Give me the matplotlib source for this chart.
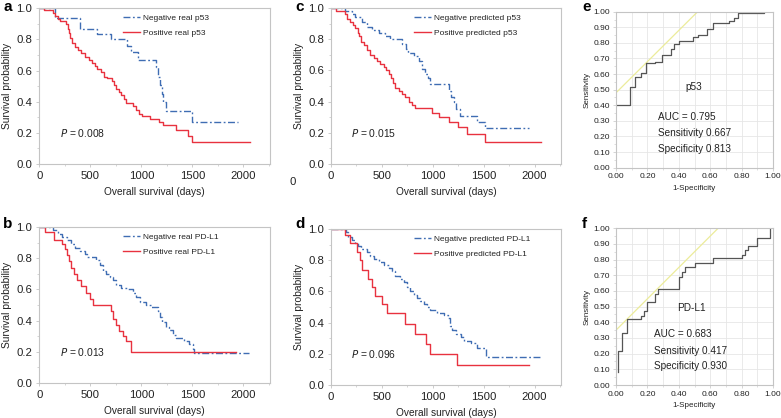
import matplotlib
matplotlib.use("Agg")
import matplotlib.pyplot as plt
from matplotlib.ticker import MultipleLocator, FormatStrFormatter

plt.rcParams['font.family'] = ['Liberation Sans', 'DejaVu Sans']

# ---------------- data ----------------
# Panel a: real p53
a_neg_t = [0, 153, 398, 567, 707, 864, 903, 962, 1148, 1164, 1186, 1206, 1216, 1242, 1500, 1950]
a_neg_s = [1.0, 0.94, 0.87, 0.835, 0.80, 0.76, 0.72, 0.67, 0.62, 0.56, 0.51, 0.45, 0.40, 0.34, 0.27, 0.27]
a_pos_t = [0, 50, 135, 155, 185, 205, 265, 280, 290, 300, 325, 345, 380, 410, 450, 490, 520, 550, 570,
           600, 630, 665, 715, 735, 755, 785, 805, 825, 850, 920, 950, 980, 1010, 1080, 1175, 1215,
           1340, 1460, 1500, 2060]
a_pos_s = [1.0, 0.99, 0.97, 0.95, 0.93, 0.92, 0.90, 0.87, 0.84, 0.81, 0.78, 0.75, 0.73, 0.71, 0.69, 0.67,
           0.65, 0.63, 0.61, 0.59, 0.56, 0.55, 0.53, 0.51, 0.48, 0.46, 0.44, 0.42, 0.39, 0.37, 0.35, 0.32,
           0.31, 0.29, 0.27, 0.25, 0.22, 0.18, 0.14, 0.14]

# Panel b: real PD-L1
b_neg_t = [0, 137, 186, 218, 267, 315, 348, 397, 446, 472, 560, 593, 624, 657, 690, 722, 755, 804, 869,
           918, 950, 982, 1048, 1097, 1162, 1178, 1201, 1243, 1275, 1308, 1340, 1422, 1471, 1503, 1512, 2050]
b_neg_s = [1.0, 0.98, 0.96, 0.94, 0.92, 0.89, 0.87, 0.85, 0.83, 0.81, 0.79, 0.76, 0.72, 0.70, 0.68, 0.66,
           0.63, 0.61, 0.60, 0.58, 0.55, 0.52, 0.50, 0.49, 0.46, 0.42, 0.39, 0.36, 0.34, 0.31, 0.29, 0.27,
           0.25, 0.22, 0.19, 0.19]
b_pos_t = [0, 51, 143, 218, 251, 267, 290, 306, 339, 371, 413, 462, 495, 527, 700, 722, 755, 781, 820,
           853, 902, 1930]
b_pos_s = [1.0, 0.97, 0.92, 0.89, 0.86, 0.82, 0.78, 0.74, 0.70, 0.66, 0.62, 0.58, 0.54, 0.50, 0.46, 0.41,
           0.37, 0.33, 0.30, 0.27, 0.20, 0.20]

# Panel c: predicted p53
c_neg_t = [0, 140, 205, 238, 304, 353, 403, 469, 528, 584, 700, 733, 759, 812, 862, 895, 928, 954, 977,
           1158, 1184, 1208, 1224, 1267, 1436, 1511, 1950]
c_neg_s = [1.0, 0.98, 0.96, 0.94, 0.91, 0.88, 0.86, 0.84, 0.82, 0.80, 0.77, 0.74, 0.71, 0.69, 0.66, 0.61,
           0.58, 0.55, 0.51, 0.47, 0.43, 0.40, 0.35, 0.31, 0.27, 0.23, 0.23]
c_pos_t = [0, 50, 139, 155, 188, 221, 238, 261, 277, 297, 320, 353, 386, 419, 452, 485, 518, 544, 568,
           591, 610, 627, 666, 699, 732, 765, 798, 825, 990, 1062, 1160, 1243, 1333, 1511, 2060]
c_pos_s = [1.0, 0.98, 0.96, 0.93, 0.91, 0.89, 0.87, 0.84, 0.82, 0.78, 0.76, 0.73, 0.70, 0.68, 0.66, 0.64,
           0.62, 0.60, 0.58, 0.55, 0.52, 0.49, 0.47, 0.45, 0.43, 0.40, 0.38, 0.36, 0.33, 0.30, 0.27, 0.24,
           0.19, 0.14, 0.14]

# Panel d: predicted PD-L1
d_neg_t = [0, 145, 171, 204, 237, 270, 296, 352, 385, 418, 467, 516, 566, 599, 632, 681, 714, 747, 780,
           813, 846, 878, 911, 944, 977, 1043, 1109, 1151, 1165, 1191, 1224, 1273, 1306, 1372, 1438, 1520, 2070]
d_neg_s = [1.0, 0.98, 0.95, 0.93, 0.91, 0.89, 0.87, 0.85, 0.83, 0.81, 0.79, 0.77, 0.75, 0.73, 0.70, 0.68,
           0.66, 0.63, 0.60, 0.58, 0.56, 0.54, 0.52, 0.50, 0.48, 0.46, 0.45, 0.43, 0.38, 0.35, 0.33, 0.31,
           0.28, 0.27, 0.24, 0.18, 0.18]
d_pos_t = [0, 138, 188, 253, 286, 303, 362, 401, 434, 500, 549, 730, 822, 938, 977, 1240, 1945]
d_pos_s = [1.0, 0.96, 0.91, 0.85, 0.80, 0.74, 0.68, 0.63, 0.57, 0.52, 0.46, 0.39, 0.33, 0.26, 0.20, 0.13, 0.13]

# Panel e: ROC p53
e_fpr = [0.00, 0.09, 0.09, 0.12, 0.12, 0.16, 0.16, 0.19, 0.19, 0.25, 0.25, 0.29, 0.29, 0.35, 0.35, 0.37,
         0.37, 0.40, 0.40, 0.49, 0.49, 0.52, 0.52, 0.58, 0.58, 0.62, 0.62, 0.72, 0.72, 0.75, 0.75, 0.78,
         0.78, 0.94, 0.94]
e_tpr = [0.40, 0.40, 0.52, 0.52, 0.58, 0.58, 0.61, 0.61, 0.67, 0.67, 0.68, 0.68, 0.72, 0.72, 0.76, 0.76,
         0.79, 0.79, 0.81, 0.81, 0.84, 0.84, 0.85, 0.85, 0.89, 0.89, 0.93, 0.93, 0.94, 0.94, 0.96, 0.96,
         0.99, 0.99, 1.00]
e_ref_x = [0.0, 0.52]
e_ref_y = [0.48, 1.0]

# Panel f: ROC PD-L1
f_fpr = [0.01, 0.01, 0.04, 0.04, 0.07, 0.07, 0.16, 0.16, 0.18, 0.18, 0.20, 0.20, 0.25, 0.25, 0.27, 0.27,
         0.40, 0.40, 0.42, 0.42, 0.44, 0.44, 0.50, 0.50, 0.62, 0.62, 0.80, 0.80, 0.82, 0.82, 0.84, 0.84,
         0.90, 0.90, 0.98, 0.98]
f_tpr = [0.08, 0.22, 0.22, 0.33, 0.33, 0.42, 0.42, 0.44, 0.44, 0.47, 0.47, 0.53, 0.53, 0.58, 0.58, 0.61,
         0.61, 0.69, 0.69, 0.72, 0.72, 0.75, 0.75, 0.78, 0.78, 0.81, 0.81, 0.83, 0.83, 0.86, 0.86, 0.89,
         0.89, 0.94, 0.94, 1.00]
f_ref_x = [0.0, 0.65]
f_ref_y = [0.35, 1.0]

km_panels = [
    ('a', 'Negative real p53', 'Positive real p53', '0.008', a_neg_t, a_neg_s, a_pos_t, a_pos_s),
    ('b', 'Negative real PD-L1', 'Positive real PD-L1', '0.013', b_neg_t, b_neg_s, b_pos_t, b_pos_s),
    ('c', 'Negative predicted p53', 'Positive predicted p53', '0.015', c_neg_t, c_neg_s, c_pos_t, c_pos_s),
    ('d', 'Negative predicted PD-L1', 'Positive predicted PD-L1', '0.096', d_neg_t, d_neg_s, d_pos_t, d_pos_s),
]
roc_panels = [
    ('e', 'p53', '0.795', '0.667', '0.813', e_fpr, e_tpr, e_ref_x, e_ref_y, 0.44, 0.515, 0.265),
    ('f', 'PD-L1', '0.683', '0.417', '0.930', f_fpr, f_tpr, f_ref_x, f_ref_y, 0.39, 0.494, 0.24),
]

# ---------------- style ----------------
W, H = 781, 418
fig = plt.figure(figsize=(W / 100, H / 100), dpi=100)
BLUE = '#3f6db3'
RED = '#e8323f'
SPINE = '#c4c4c4'
TXT = '#222222'

def px_axes(l, t, r, b):
    return fig.add_axes([l / W, 1 - b / H, (r - l) / W, (b - t) / H])

km_boxes = {
    'a': (39.3, 8.3, 270, 164),
    'b': (39.3, 227.3, 270, 382.7),
    'c': (331, 8, 561, 164),
    'd': (331, 229, 561, 385),
}
km_letter = {'a': (3, 7), 'b': (3, 224), 'c': (295, 7), 'd': (295, 224)}

for letter, lneg, lpos, pval, nt, ns, pt, ps in km_panels:
    ax = px_axes(*km_boxes[letter])
    ax.step(nt, ns, where='post', color=BLUE, lw=1.0, dashes=(5, 1.8, 1.3, 1.8), label=lneg)
    ax.step(pt, ps, where='post', color=RED, lw=1.0, label=lpos)
    ax.set_xlim(0, 2260)
    ax.set_ylim(0, 1.0)
    ax.xaxis.set_major_locator(MultipleLocator(500))
    ax.xaxis.set_minor_locator(MultipleLocator(250))
    ax.yaxis.set_major_locator(MultipleLocator(0.2))
    ax.yaxis.set_minor_locator(MultipleLocator(0.1))
    ax.yaxis.set_major_formatter(FormatStrFormatter('%.1f'))
    for s in ax.spines.values():
        s.set_color(SPINE)
        s.set_linewidth(0.8)
    ax.tick_params(which='major', length=2.5, width=0.6, color=SPINE, labelsize=8.2,
                   labelcolor=TXT, pad=2.5)
    ax.tick_params(which='minor', length=1.5, width=0.5, color=SPINE)
    ax.set_xlabel('Overall survival (days)', fontsize=7.3, color=TXT, labelpad=4.5)
    ax.set_ylabel('Survival probability', fontsize=7.4, color=TXT, labelpad=3)
    leg = ax.legend(loc='upper left', bbox_to_anchor=(0.335, 1.0), frameon=False, fontsize=6.0,
                    handlelength=2.0, handletextpad=0.4, labelspacing=0.85, borderaxespad=0.35)
    for t in leg.get_texts():
        t.set_color(TXT)
    ax.text(200, 0.2, r'$\mathit{P}$ = ' + pval, fontsize=7.4, color=TXT, va='center', ha='left')
    lx, ly = km_letter[letter]
    fig.text(lx / W, 1 - ly / H, letter, fontsize=11, fontweight='bold', va='center', ha='left')

roc_boxes = {'e': (616, 11.7, 773, 167.7), 'f': (616, 228.3, 773, 385)}
roc_letter = {'e': (582, 7), 'f': (582, 224)}

for letter, name, auc, sens, spec, fx, fy, rx, ry, nx, ny, tx in roc_panels:
    ax = px_axes(*roc_boxes[letter])
    ax.set_xlim(0, 1)
    ax.set_ylim(0, 1)
    ax.xaxis.set_major_locator(MultipleLocator(0.2))
    ax.xaxis.set_minor_locator(MultipleLocator(0.1))
    ax.yaxis.set_major_locator(MultipleLocator(0.1))
    ax.yaxis.set_minor_locator(MultipleLocator(0.05))
    ax.xaxis.set_major_formatter(FormatStrFormatter('%.2f'))
    ax.yaxis.set_major_formatter(FormatStrFormatter('%.2f'))
    ax.grid(True, which='major', color='#e6e6e6', lw=0.6)
    ax.grid(True, which='minor', axis='x', color='#e6e6e6', lw=0.6)
    ax.set_axisbelow(True)
    for s in ax.spines.values():
        s.set_color(SPINE)
        s.set_linewidth(0.8)
    ax.tick_params(which='major', length=2, width=0.5, color=SPINE, labelsize=6.0,
                   labelcolor=TXT, pad=2)
    ax.tick_params(which='minor', length=1.2, width=0.4, color=SPINE)
    ax.plot(rx, ry, color='#ecec9a', lw=0.9)
    ax.plot(fx, fy, color='#555555', lw=0.9)
    ax.set_xlabel('1-Specificity', fontsize=5.8, color=TXT, labelpad=3.5)
    ax.set_ylabel('Sensitivity', fontsize=5.8, color=TXT, labelpad=2.5)
    ax.text(nx, ny, name, fontsize=7.2, color=TXT, va='center', ha='left')
    ax.text(tx, 0.323, 'AUC = ' + auc, fontsize=7.2, color=TXT, va='center', ha='left')
    ax.text(tx, 0.22, 'Sensitivity ' + sens, fontsize=7.2, color=TXT, va='center', ha='left')
    ax.text(tx, 0.12, 'Specificity ' + spec, fontsize=7.2, color=TXT, va='center', ha='left')
    lx, ly = roc_letter[letter]
    fig.text(lx / W, 1 - ly / H, letter, fontsize=11, fontweight='bold', va='center', ha='left')

# stray label present in the original figure
fig.text(293 / W, 1 - 182 / H, '0', fontsize=8.2, color=TXT, va='center', ha='center')

fig.savefig('out.png', dpi=100)
